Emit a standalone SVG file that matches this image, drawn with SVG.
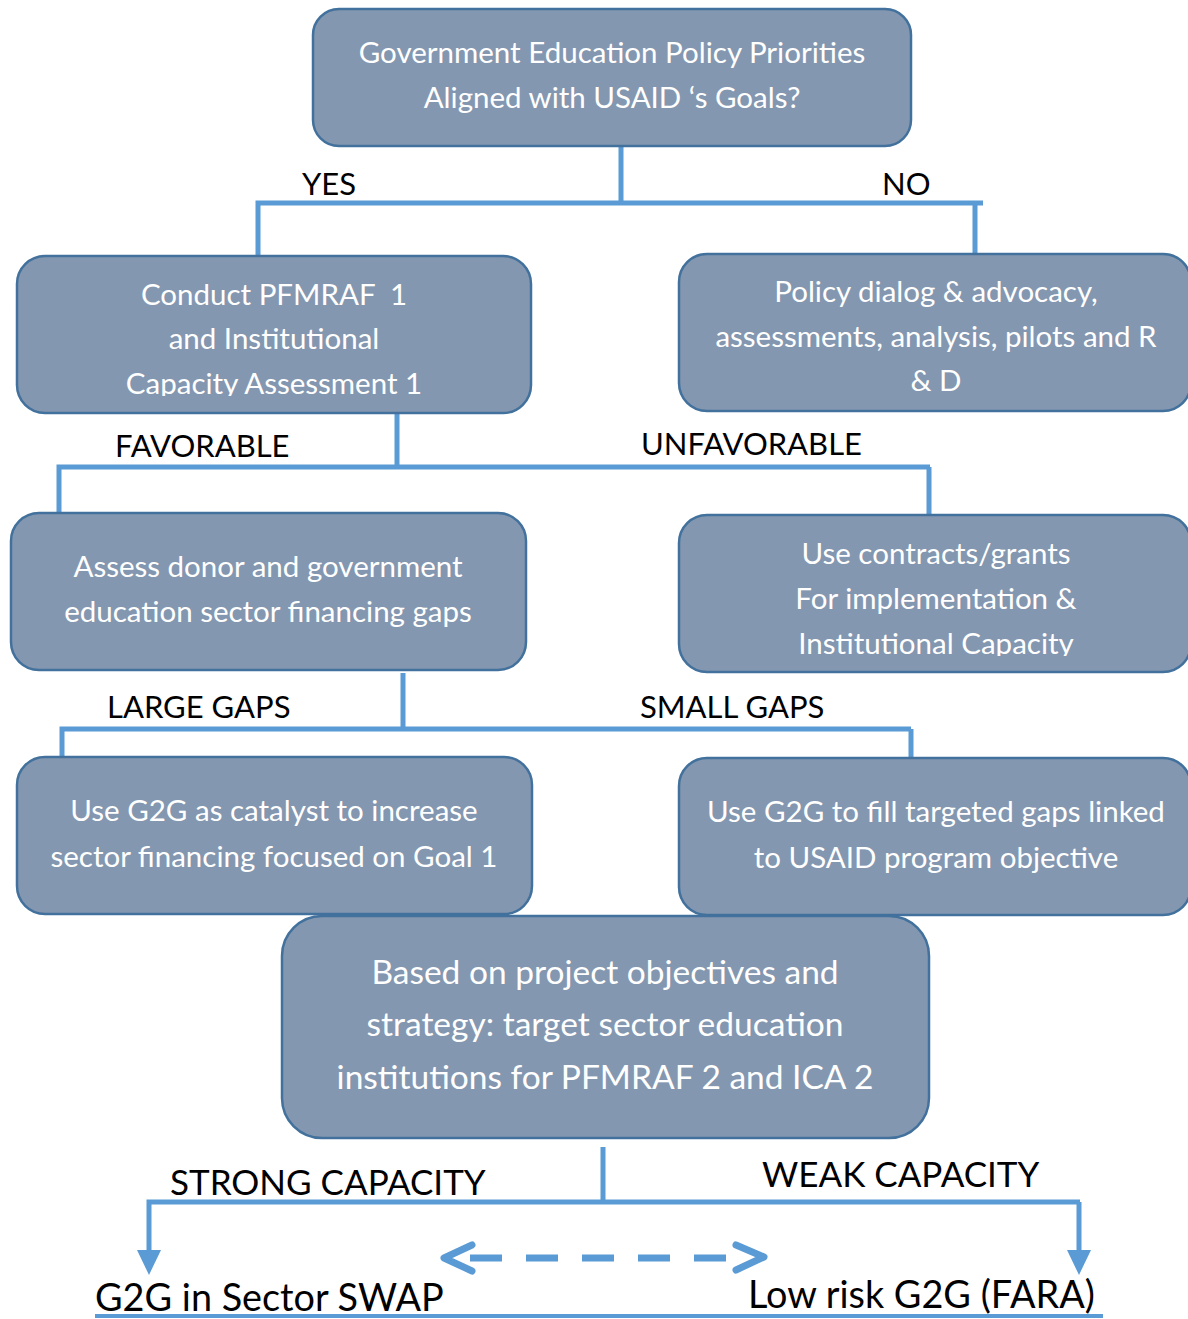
<svg xmlns="http://www.w3.org/2000/svg" width="1188" height="1319" viewBox="0 0 1188 1319">
<style>
.box{fill:#8497B0;stroke:#41719C;stroke-width:2.5}
.bt{font-family:Lato,"Open Sans",sans-serif;font-size:29.5px;fill:#ffffff;text-anchor:middle}
.bt2{font-family:Lato,"Open Sans",sans-serif;font-size:33.5px;fill:#ffffff;text-anchor:middle}
.lb{font-family:Lato,"Open Sans",sans-serif;font-size:31px;fill:#000000}
.lb2{font-family:Lato,"Open Sans",sans-serif;font-size:35px;fill:#000000}
.lb3{font-family:Lato,"Open Sans",sans-serif;font-size:37.8px;fill:#000000}
.cn{fill:none;stroke:#5B9BD5;stroke-width:5}
</style>
<defs>
<clipPath id="c1"><rect x="17" y="256" width="514" height="140"/></clipPath>
<clipPath id="c2"><rect x="679" y="515" width="512" height="141"/></clipPath>
</defs>
<g id="connectors">
<path class="cn" d="M621,146 V203 M258,255 V203 H983 M975,203 V255"/>
<path class="cn" d="M397,413 V467 M59,512 V467 H930 M929,467 V514"/>
<path class="cn" d="M403,673 V729 M62,757 V729 H911 M911,729 V757"/>
<path class="cn" d="M603,1147 V1202 M149,1252 V1202 H1080 M1079,1202 V1252"/>
<polygon points="137,1250 161,1250 149,1275" fill="#5B9BD5"/>
<polygon points="1067,1250 1091,1250 1079,1275" fill="#5B9BD5"/>
<line x1="470" y1="1258" x2="740" y2="1258" stroke="#5B9BD5" stroke-width="7" stroke-dasharray="32,24"/>
<path d="M472,1245 L444,1258 L472,1271" fill="none" stroke="#5B9BD5" stroke-width="7" stroke-linecap="round" stroke-linejoin="round"/>
<path d="M736,1245 L764,1257 L736,1270" fill="none" stroke="#5B9BD5" stroke-width="7" stroke-linecap="round" stroke-linejoin="round"/>
<line x1="95" y1="1316" x2="1103" y2="1316" stroke="#5B9BD5" stroke-width="4"/>
</g>
<g id="labels">
<text class="lb" x="302" y="195">YES</text>
<text class="lb" x="882" y="195">NO</text>
<text class="lb" x="115" y="457">FAVORABLE</text>
<text class="lb" x="641" y="455">UNFAVORABLE</text>
<text class="lb" x="107" y="718">LARGE GAPS</text>
<text class="lb" x="640" y="718">SMALL GAPS</text>
<text class="lb2" x="170" y="1195">STRONG CAPACITY</text>
<text class="lb2" x="762" y="1187">WEAK CAPACITY</text>
<text class="lb3" x="95" y="1311">G2G in Sector SWAP</text>
<text class="lb3" x="748" y="1308">Low risk G2G (FARA)</text>
</g>
<g id="n1">
<rect class="box" x="313" y="9" width="598" height="137" rx="26"/>
<text class="bt" x="612" y="63">Government Education Policy Priorities</text>
<text class="bt" x="612" y="108">Aligned with USAID ‘s Goals?</text>
</g>
<g id="n2">
<rect class="box" x="17" y="256" width="514" height="157" rx="28"/>
<g clip-path="url(#c1)">
<text class="bt" x="274" y="305" xml:space="preserve">Conduct PFMRAF  1</text>
<text class="bt" x="274" y="349">and Institutional</text>
<text class="bt" x="274" y="394">Capacity Assessment 1</text>
</g>
</g>
<g id="n3">
<rect class="box" x="679" y="254" width="512" height="157" rx="28"/>
<text class="bt" x="936" y="302">Policy dialog &amp; advocacy,</text>
<text class="bt" x="936" y="347">assessments, analysis, pilots and R</text>
<text class="bt" x="936" y="391">&amp; D</text>
</g>
<g id="n4">
<rect class="box" x="11" y="513" width="515" height="157" rx="28"/>
<text class="bt" x="268" y="577">Assess donor and government</text>
<text class="bt" x="268" y="622">education sector financing gaps</text>
</g>
<g id="n5">
<rect class="box" x="679" y="515" width="512" height="157" rx="28"/>
<g clip-path="url(#c2)">
<text class="bt" x="936" y="564">Use contracts/grants</text>
<text class="bt" x="936" y="609">For implementation &amp;</text>
<text class="bt" x="936" y="654">Institutional Capacity</text>
</g>
</g>
<g id="n6">
<rect class="box" x="17" y="757" width="515" height="157" rx="28"/>
<text class="bt" x="274" y="821">Use G2G as catalyst to increase</text>
<text class="bt" x="274" y="867">sector financing focused on Goal 1</text>
</g>
<g id="n7">
<rect class="box" x="679" y="758" width="512" height="157" rx="28"/>
<text class="bt" x="936" y="822">Use G2G to fill targeted gaps linked</text>
<text class="bt" x="936" y="868">to USAID program objective</text>
</g>
<g id="n8">
<rect class="box" x="282" y="916" width="647" height="222" rx="40"/>
<text class="bt2" x="605" y="984">Based on project objectives and</text>
<text class="bt2" x="605" y="1036">strategy: target sector education</text>
<text class="bt2" x="605" y="1089">institutions for PFMRAF 2 and ICA 2</text>
</g>
</svg>
